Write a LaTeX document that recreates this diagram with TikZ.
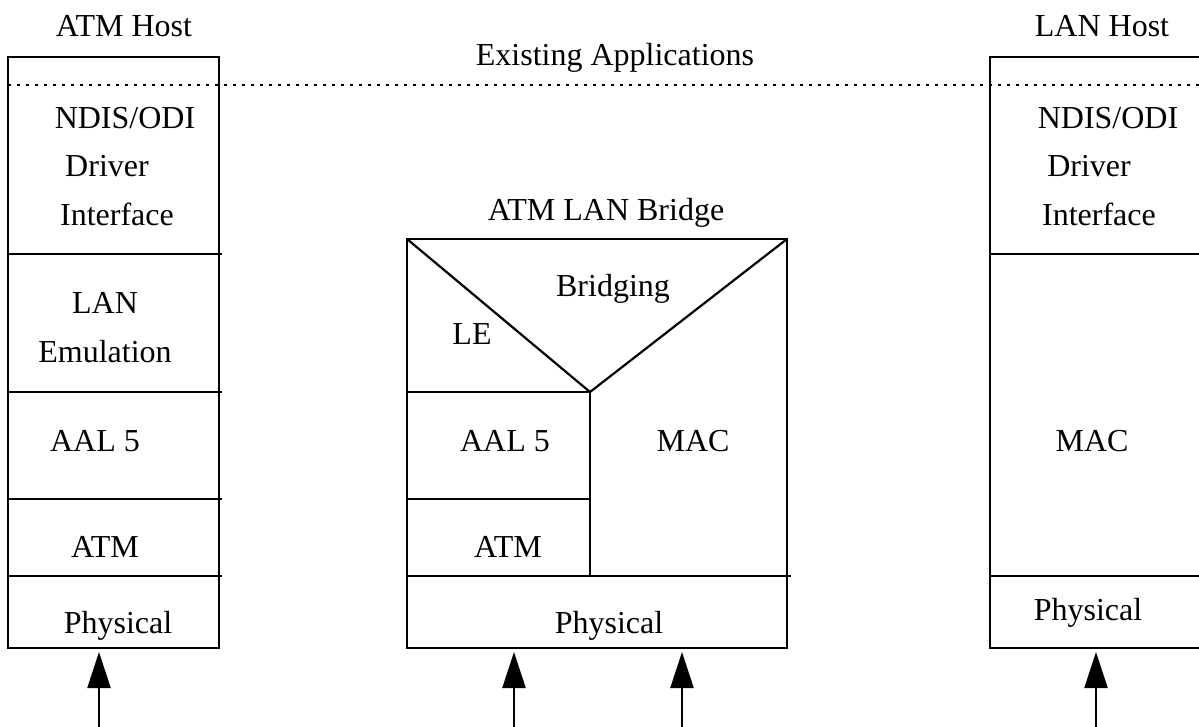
\documentclass[tikz,border=0pt]{standalone}
\usepackage{fontspec}
\setmainfont{Liberation Serif}
\usetikzlibrary{arrows.meta, positioning}

\begin{document}
\begin{tikzpicture}[
	x=0.5pt, y=-0.5pt,
	rule/.style={line width=1.1pt},
	txt/.style={font=\fontsize{16}{19}\selectfont, inner sep=0pt, anchor=base},
	arrow/.style={-{Triangle[length=18pt, width=11.5pt]}, line width=1.1pt},
	dots/.style={line width=1.3pt, dash pattern=on 1.3pt off 3.2pt}
	]
	\useasboundingbox (0,0) rectangle (1199,727);

	% ATM host stack
	\draw[rule] (8,57) rectangle (219,648);
	\foreach \y in {254,392,499,576}
		\draw[rule] (8,\y) -- (222,\y);

	% LAN host stack
	\draw[rule] (1199,57) -- (990,57) -- (990,648) -- (1199,648);
	\foreach \y in {254,576}
		\draw[rule] (990,\y) -- (1199,\y);

	% Bridge stack
	\draw[rule] (407,239) rectangle (787,648);
	\draw[rule] (407,239) -- (590,392) -- (787,239);
	\draw[rule] (590,392) -- (590,576);
	\draw[rule] (407,392) -- (590,392);
	\draw[rule] (407,499) -- (590,499);
	\draw[rule] (407,576) -- (791,576);

	% Applications line
	\draw[dots] (8,85) -- (1199,85);

	% Nodes
	\node (atmhost) [txt] at (124,37) {ATM Host};
	\node (lanhost) [txt] at (1102,37) {LAN Host};
	\node (apps) [txt] at (615,66) {Existing Applications};
	\node (bridge) [txt] at (606,221) {ATM LAN Bridge};

	\node (ndisL) [txt] at (125,129) {NDIS/ODI};
	\node (drvL) [txt] at (107,177) {Driver};
	\node (ifL) [txt] at (117,226) {Interface};
	\node (lan) [txt] at (105,314) {LAN};
	\node (emu) [txt] at (105,362) {Emulation};
	\node (aalL) [txt] at (95,451) {AAL 5};
	\node (atmL) [txt] at (105,557) {ATM};
	\node (physL) [txt] at (118,633) {Physical};

	\node (bridging) [txt] at (613,297) {Bridging};
	\node (le) [txt] at (472,344) {LE};
	\node (aalB) [txt] at (505,451) {AAL 5};
	\node (macB) [txt] at (693,451) {MAC};
	\node (atmB) [txt] at (508,557) {ATM};
	\node (physB) [txt] at (609,633) {Physical};

	\node (ndisR) [txt] at (1108,129) {NDIS/ODI};
	\node (drvR) [txt] at (1089,177) {Driver};
	\node (ifR) [txt] at (1099,226) {Interface};
	\node (macR) [txt] at (1092,451) {MAC};
	\node (physR) [txt] at (1088,620) {Physical};

	% Arrows
	\coordinate (inL) at (99,727);
	\coordinate (tipL) at (99,652);
	\coordinate (inB1) at (514,727);
	\coordinate (tipB1) at (514,652);
	\coordinate (inB2) at (682,727);
	\coordinate (tipB2) at (682,652);
	\coordinate (inR) at (1096,727);
	\coordinate (tipR) at (1096,652);
	\draw[arrow] (inL) -- (tipL);
	\draw[arrow] (inB1) -- (tipB1);
	\draw[arrow] (inB2) -- (tipB2);
	\draw[arrow] (inR) -- (tipR);

\end{tikzpicture}
\end{document}
